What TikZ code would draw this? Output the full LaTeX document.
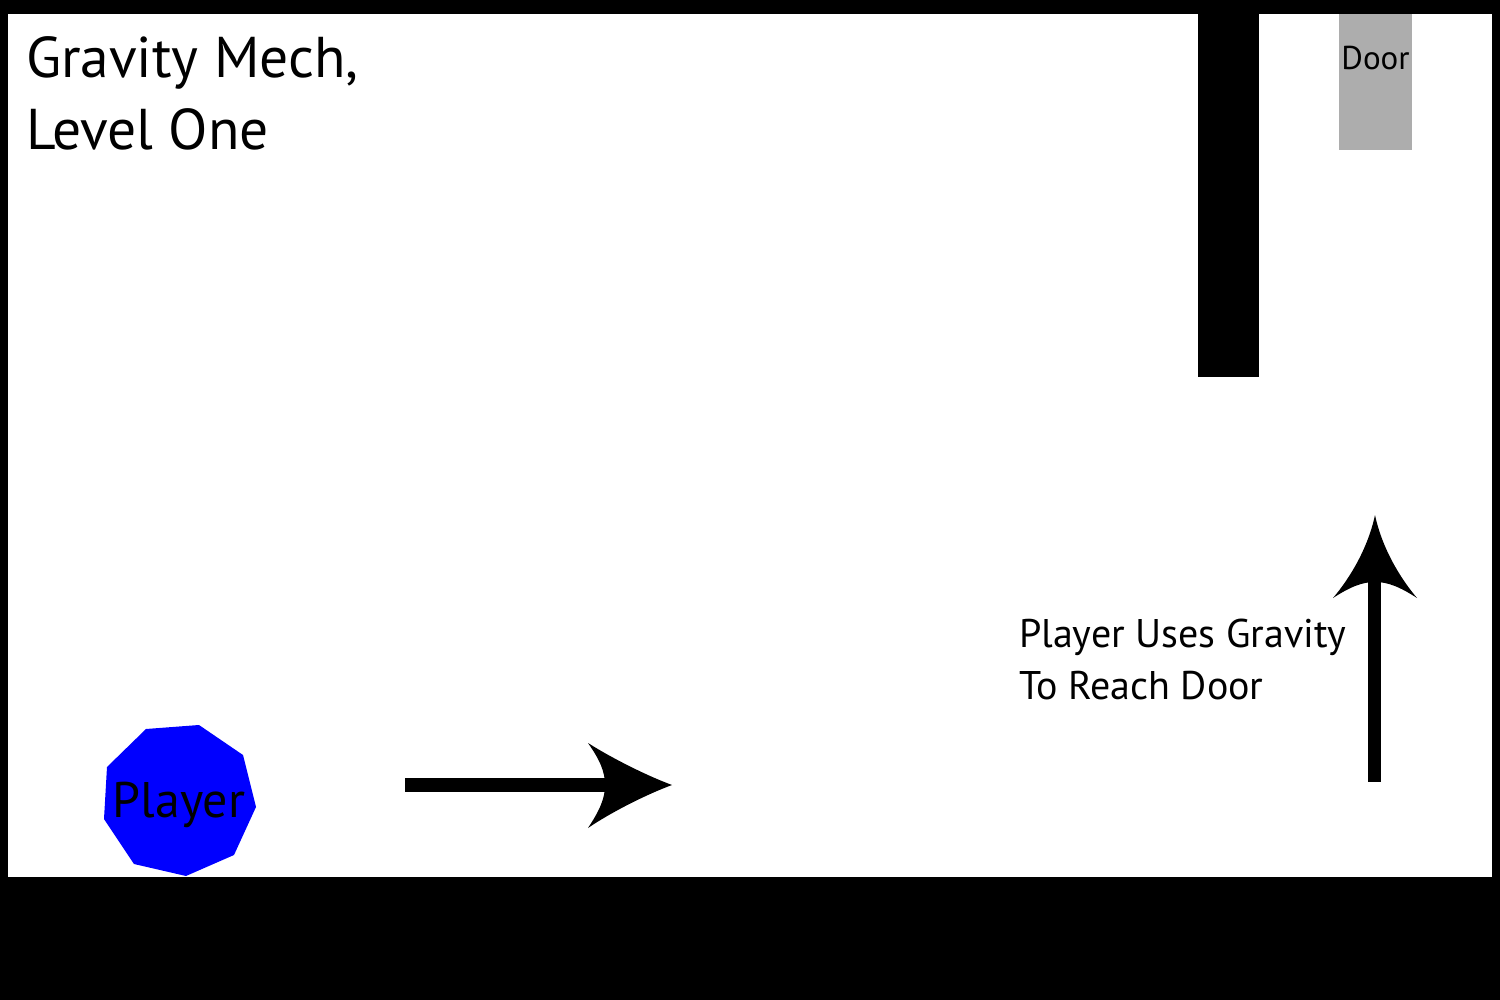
\documentclass[tikz,border=0pt]{standalone}
\usepackage{fontspec}
\setmainfont{PT Sans}
\definecolor{doorgray}{HTML}{ADADAD}
\definecolor{playerblue}{HTML}{0000FF}
\begin{document}
\begin{tikzpicture}[x=1pt,y=-1pt,
  lbl/.style={inner sep=0pt,outer sep=0pt,anchor=base west,text=black}]
\useasboundingbox (0,0) rectangle (1500,1000);
% frame
\fill[black] (0,0) rectangle (1500,1000);
\fill[white] (8,14) rectangle (1492,877);
% wall
\fill[black] (1198,14) rectangle (1259,377);
% door
\fill[doorgray] (1339,14) rectangle (1412,150);
\node[inner sep=0pt,anchor=base] (door) at (1375.5,70) {\fontsize{33}{36}\selectfont Door};
% player
\fill[playerblue] (146,729) -- (199,725) -- (243,755) -- (256,807) -- (234,855) -- (186,876) -- (134,864) -- (104,819) -- (107,767) -- cycle;
\node[inner sep=0pt,anchor=base] (player) at (179,817) {\fontsize{50}{55}\selectfont Player};
% title
\node[lbl] (title1) at (26,78) {\fontsize{57.5}{70}\selectfont Gravity Mech,};
\node[lbl] (title2) at (26,150) {\fontsize{57.5}{70}\selectfont Level One};
% caption
\node[lbl] (cap1) at (1019,647) {\fontsize{40}{45}\selectfont Player Uses Gravity};
\node[lbl] (cap2) at (1019,699) {\fontsize{40}{45}\selectfont To Reach Door};
% horizontal arrow
\coordinate (hstart) at (405,785);
\coordinate (htip) at (672,785);
\fill[black] (405,778) rectangle (606,792);
\fill[black] (htip) .. controls (645,775) and (610,757) .. (588,743)
  .. controls (600,760) and (605,772) .. (605,785)
  .. controls (605,798) and (600,810) .. (588,828)
  .. controls (610,813) and (645,795) .. (htip) -- cycle;
% vertical arrow
\coordinate (vstart) at (1375,782);
\coordinate (vtip) at (1375,515);
\fill[black] (1368,582) rectangle (1381,782);
\fill[black] (vtip) .. controls (1368,548) and (1350,578) .. (1333,598)
  .. controls (1350,587) and (1362,582) .. (1375,582)
  .. controls (1388,582) and (1400,587) .. (1417,598)
  .. controls (1400,578) and (1382,548) .. (vtip) -- cycle;
\end{tikzpicture}
\end{document}
